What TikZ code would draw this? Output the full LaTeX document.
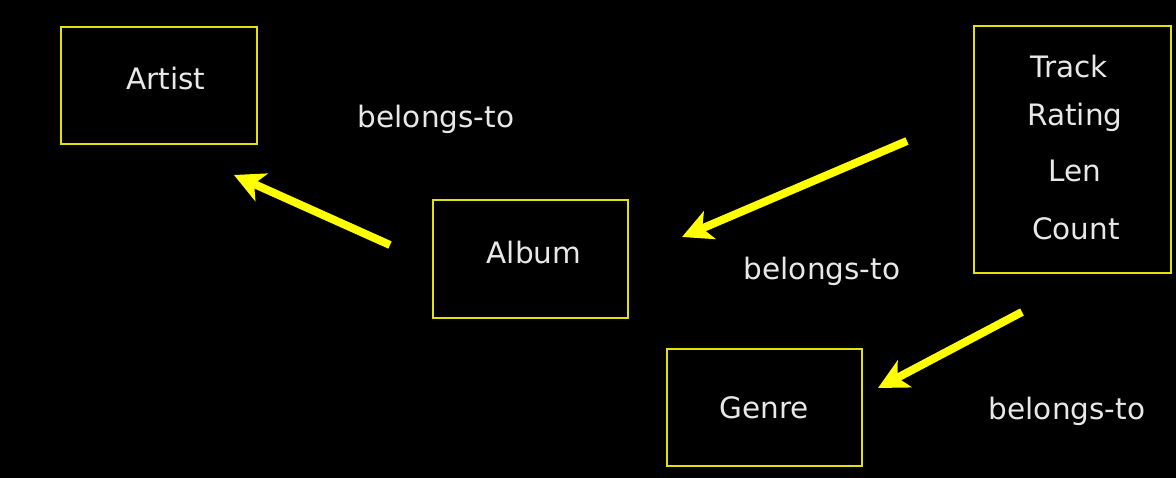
\documentclass[tikz,border=0pt]{standalone}
\usepackage{fontspec}
\setmainfont{DejaVu Sans}
\usetikzlibrary{arrows.meta}
\definecolor{boxy}{HTML}{E2E20A}
\definecolor{arry}{HTML}{FFFF00}
\definecolor{txt}{HTML}{E8E8E8}
\begin{document}
\begin{tikzpicture}[x=1pt,y=-1pt,
  entbox/.style={draw=boxy,line width=2.5pt},
  lbl/.style={text=txt,font=\fontsize{29.5}{33}\selectfont,inner sep=0pt,anchor=base},
  bigarrow/.style={draw=arry,line width=8pt,-{Stealth[length=30pt,width=30pt,inset=8pt]}}]
\useasboundingbox[fill=black] (0,0) rectangle (1176,478);
% boxes
\draw[entbox] (61,27) rectangle (257,144) coordinate (artistbox);
\draw[entbox] (433,200) rectangle (628,318) coordinate (albumbox);
\draw[entbox] (667,349) rectangle (862,466) coordinate (genrebox);
\draw[entbox] (974,26) rectangle (1171,273) coordinate (trackbox);
% texts
\node[lbl] (artist) at (166,90) {Artist};
\node[lbl] (album) at (534,264) {Album};
\node[lbl] (genre) at (764,418) {Genre};
\node[lbl] (track) at (1069,78) {Track};
\node[lbl] (rating) at (1075,126) {Rating};
\node[lbl] (len) at (1075,182) {Len};
\node[lbl] (count) at (1076,240) {Count};
\node[lbl] (bt1) at (436,128) {belongs-to};
\node[lbl] (bt2) at (822,280) {belongs-to};
\node[lbl] (bt3) at (1067,419) {belongs-to};
% arrows
\coordinate (a1s) at (390,245);
\coordinate (a1e) at (234,175);
\coordinate (a2s) at (907,141);
\coordinate (a2e) at (682,237);
\coordinate (a3s) at (1022,312);
\coordinate (a3e) at (878,388);
\draw[bigarrow] (a1s) -- (a1e);
\draw[bigarrow] (a2s) -- (a2e);
\draw[bigarrow] (a3s) -- (a3e);
\end{tikzpicture}
\end{document}
